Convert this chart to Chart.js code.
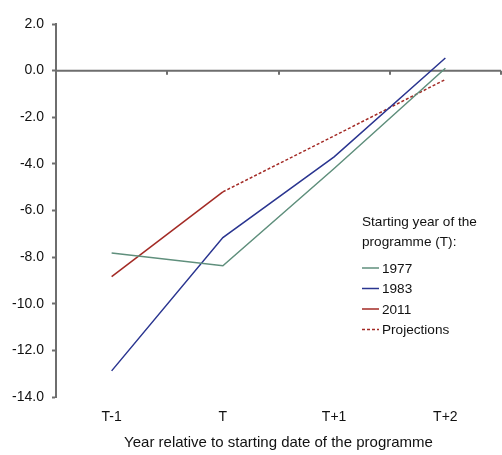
<!DOCTYPE html>
<html>
<head>
<meta charset="utf-8">
<script src="https://cdn.jsdelivr.net/npm/chart.js@4.4.1/dist/chart.umd.min.js"></script>
<style>
  html, body { margin: 0; padding: 0; background: #fff; }
  #wrap { width: 502px; height: 455px; }
</style>
</head>
<body>
<div id="wrap"><canvas id="c"></canvas></div>
<script>
const categories = ['T-1', 'T', 'T+1', 'T+2'];
const y1977 = [-7.82, -8.37, -4.2, 0.1];
const y1983 = [-12.88, -7.16, -3.7, 0.54];
const y2011 = [-8.84, -5.2, null, null];
const proj2011 = [null, -5.2, -2.8, -0.38];
const legendTitle = ['Starting year of the', 'programme (T):'];
const xTitle = 'Year relative to starting date of the programme';

const FONT = "'Liberation Sans', Arial, sans-serif";
const AXIS = '#6e6e6e';

// horizontal axis line at zero, with tick marks between categories
const zeroAxis = {
    id: 'zeroAxis',
    beforeDatasetsDraw(chart) {
        const { ctx, chartArea, scales: { x, y } } = chart;
        const y0 = y.getPixelForValue(0);
        ctx.save();
        ctx.strokeStyle = AXIS;
        ctx.lineWidth = 2;
        ctx.beginPath();
        ctx.moveTo(chartArea.left, y0);
        ctx.lineTo(chartArea.right, y0);
        const half = (x.getPixelForValue(1) - x.getPixelForValue(0)) / 2;
        for (let i = 0; i <= categories.length; i++) {
            const px = Math.round(x.getPixelForValue(i) - half);
            ctx.moveTo(px, y0);
            ctx.lineTo(px, y0 + 4);
        }
        ctx.stroke();
        ctx.restore();
    }
};

// legend drawn inside the plot area
const innerLegend = {
    id: 'innerLegend',
    afterDraw(chart) {
        const { ctx, chartArea } = chart;
        const left = chartArea.left + 306;
        let top = chartArea.top + 198;
        ctx.save();
        ctx.font = '13.6px ' + FONT;
        ctx.fillStyle = '#111';
        ctx.textBaseline = 'middle';
        legendTitle.forEach((line, i) => ctx.fillText(line, left, top + i * 20.5));
        top += 46;
        chart.data.datasets.forEach((ds, i) => {
            const yy = top + i * 20.5;
            ctx.strokeStyle = ds.borderColor;
            ctx.lineWidth = 1.5;
            ctx.setLineDash(ds.borderDash || []);
            ctx.beginPath();
            ctx.moveTo(left, yy);
            ctx.lineTo(left + 17, yy);
            ctx.stroke();
            ctx.setLineDash([]);
            ctx.fillText(ds.label, left + 20, yy + 1);
        });
        ctx.restore();
    }
};

const line = (label, data, color, dash) => ({
    label, data,
    borderColor: color,
    backgroundColor: color,
    borderWidth: 1.5,
    borderDash: dash,
    pointRadius: 0,
    tension: 0,
    spanGaps: false
});

new Chart(document.getElementById('c'), {
    type: 'line',
    data: {
        labels: categories,
        datasets: [
            line('1977', y1977, '#5f8f7c'),
            line('1983', y1983, '#2a3590'),
            line('2011', y2011, '#a32a25'),
            line('Projections', proj2011, '#a32a25', [3, 2])
        ]
    },
    options: {
        responsive: true,
        maintainAspectRatio: false,
        animation: false,
        layout: { padding: { top: 24, right: 1, left: 0, bottom: 3 } },
        plugins: { legend: { display: false }, tooltip: { enabled: false } },
        scales: {
            x: {
                offset: true,
                grid: { display: false, drawTicks: false },
                border: { display: false },
                ticks: { color: '#111', font: { family: FONT, size: 14 }, padding: 12, maxRotation: 0 },
                title: {
                    display: true, text: xTitle, color: '#111',
                    font: { family: FONT, size: 15 }, padding: { top: 8, bottom: 0 }
                },
                afterFit(scale) { scale.height = 55; }
            },
            y: {
                min: -14, max: 2,
                ticks: {
                    stepSize: 2, color: '#111', font: { family: FONT, size: 14 }, padding: 8,
                    callback: v => v.toFixed(1)
                },
                grid: { drawOnChartArea: false, tickLength: 4, tickColor: AXIS, tickWidth: 2 },
                border: { color: AXIS, width: 2 },
                afterFit(scale) { scale.width = 56; }
            }
        }
    },
    plugins: [zeroAxis, innerLegend]
});
</script>
</body>
</html>
